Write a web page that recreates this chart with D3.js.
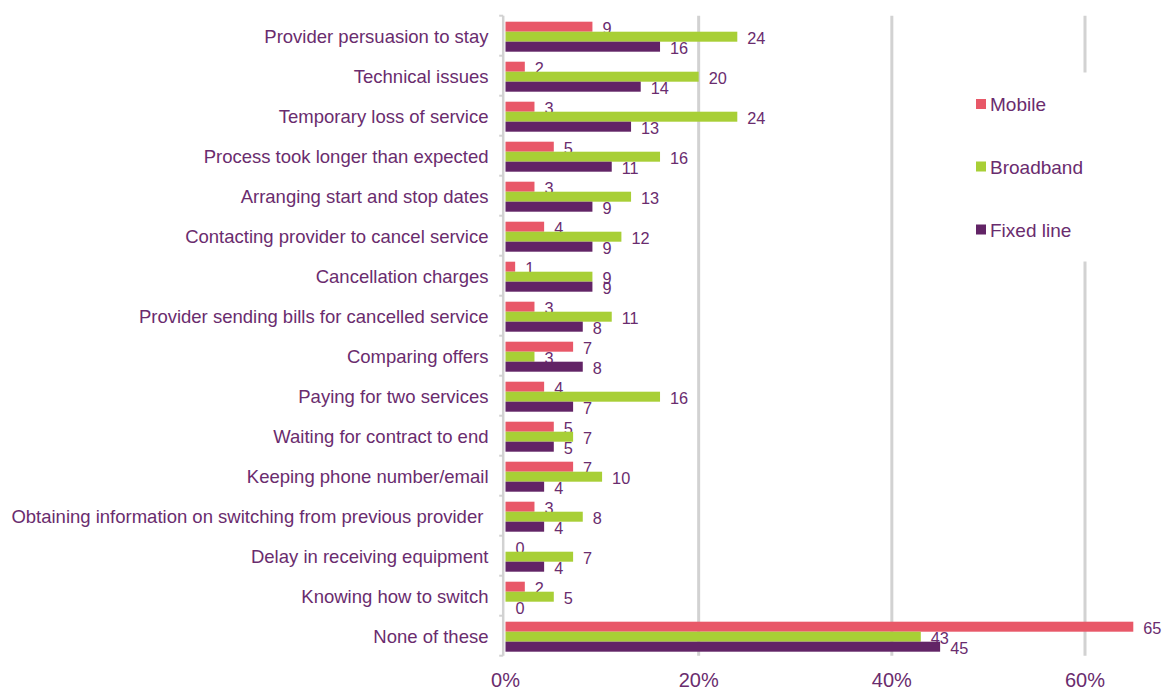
<!DOCTYPE html>
<html>
<head>
<meta charset="utf-8">
<script src="https://cdn.jsdelivr.net/npm/d3@7/dist/d3.min.js"></script>
<style>
  html, body { margin: 0; padding: 0; background: #fff; }
  svg { display: block; font-family: "Liberation Sans", Arial, sans-serif; }
</style>
</head>
<body>
<svg id="chart" width="1163" height="687"></svg>
<script>
// Difficulties experienced when switching provider (% of respondents)
const categories = [
  "Provider persuasion to stay",
  "Technical issues",
  "Temporary loss of service",
  "Process took longer than expected",
  "Arranging start and stop dates",
  "Contacting provider to cancel service",
  "Cancellation charges",
  "Provider sending bills for cancelled service",
  "Comparing offers",
  "Paying for two services",
  "Waiting for contract to end",
  "Keeping phone number/email",
  "Obtaining information on switching from previous provider ",
  "Delay in receiving equipment",
  "Knowing how to switch",
  "None of these"
];
const seriesNames = ["Mobile", "Broadband", "Fixed line"];
const mobile    = [9, 2, 3, 5, 3, 4, 1, 3, 7, 4, 5, 7, 3, 0, 2, 65];
const broadband = [24, 20, 24, 16, 13, 12, 9, 11, 3, 16, 7, 10, 8, 7, 5, 43];
const fixedLine = [16, 14, 13, 11, 9, 9, 9, 8, 8, 7, 5, 4, 4, 4, 0, 45];
const xTicks = [0, 20, 40, 60];

const seriesValues = [mobile, broadband, fixedLine];
const colors = ["#E85868", "#A8CF36", "#622466"];
const textColor = "#6A2C6E";
const gridColor = "#D2D2D2";

const svg = d3.select("#chart");
const plotTop = 15.7, plotBottom = 655.7;
const x = d3.scaleLinear().domain([0, 60]).range([505.5, 1085]);
const y = d3.scaleBand().domain(categories).range([plotTop, plotBottom]).paddingInner(0).paddingOuter(0);
const sub = d3.scaleBand().domain(seriesNames).range([6, 36]);

// vertical gridlines
svg.append("g").selectAll("line").data(xTicks.filter(d => d > 0)).join("line")
  .attr("x1", d => x(d)).attr("x2", d => x(d))
  .attr("y1", plotTop).attr("y2", plotBottom)
  .attr("stroke", gridColor).attr("stroke-width", 3);

// category axis line with tick marks at band boundaries
const axisX = 503.2;
svg.append("line")
  .attr("x1", axisX).attr("x2", axisX).attr("y1", plotTop).attr("y2", plotBottom)
  .attr("stroke", gridColor).attr("stroke-width", 2.5);
const bounds = categories.map(c => y(c)).concat([plotBottom]);
svg.append("g").selectAll("line").data(bounds).join("line")
  .attr("x1", axisX - 4).attr("x2", axisX)
  .attr("y1", d => d).attr("y2", d => d)
  .attr("stroke", gridColor).attr("stroke-width", 2);

// category labels
svg.append("g").selectAll("text").data(categories).join("text")
  .attr("x", 488.5)
  .attr("y", d => y(d) + y.bandwidth() / 2 + 0.6)
  .attr("text-anchor", "end")
  .attr("dominant-baseline", "central")
  .style("white-space", "pre")
  .attr("font-size", 18.5)
  .attr("fill", textColor)
  .text(d => d);

// bars and value labels
seriesNames.forEach((name, si) => {
  const vals = seriesValues[si];
  const g = svg.append("g");
  g.selectAll("rect").data(categories).join("rect")
    .attr("x", x(0))
    .attr("y", (c) => y(c) + sub(name))
    .attr("width", (c, i) => x(vals[i]) - x(0))
    .attr("height", sub.bandwidth())
    .attr("fill", colors[si]);
  g.selectAll("text").data(categories).join("text")
    .attr("x", (c, i) => x(vals[i]) + 10)
    .attr("y", (c) => y(c) + sub(name) + sub.bandwidth() / 2 + 1.6)
    .attr("dominant-baseline", "central")
    .attr("font-size", 16.3)
    .attr("fill", textColor)
    .text((c, i) => vals[i]);
});

// x-axis tick labels
svg.append("g").selectAll("text").data(xTicks).join("text")
  .attr("x", d => x(d))
  .attr("y", 679.5)
  .attr("text-anchor", "middle")
  .attr("dominant-baseline", "central")
  .attr("font-size", 20)
  .attr("fill", textColor)
  .text(d => d + "%");

// legend (white panel sits over the gridline)
const legend = svg.append("g");
legend.append("rect")
  .attr("x", 965).attr("y", 72.5).attr("width", 195).attr("height", 189)
  .attr("fill", "#fff");
const legendY = [104, 166.5, 229.5];
seriesNames.forEach((name, i) => {
  legend.append("rect")
    .attr("x", 976).attr("y", legendY[i] - 5)
    .attr("width", 10).attr("height", 10)
    .attr("fill", colors[i]);
  legend.append("text")
    .attr("x", 990).attr("y", legendY[i] + 0.5)
    .attr("dominant-baseline", "central")
    .attr("font-size", 19)
    .attr("fill", textColor)
    .text(name);
});
</script>
</body>
</html>
